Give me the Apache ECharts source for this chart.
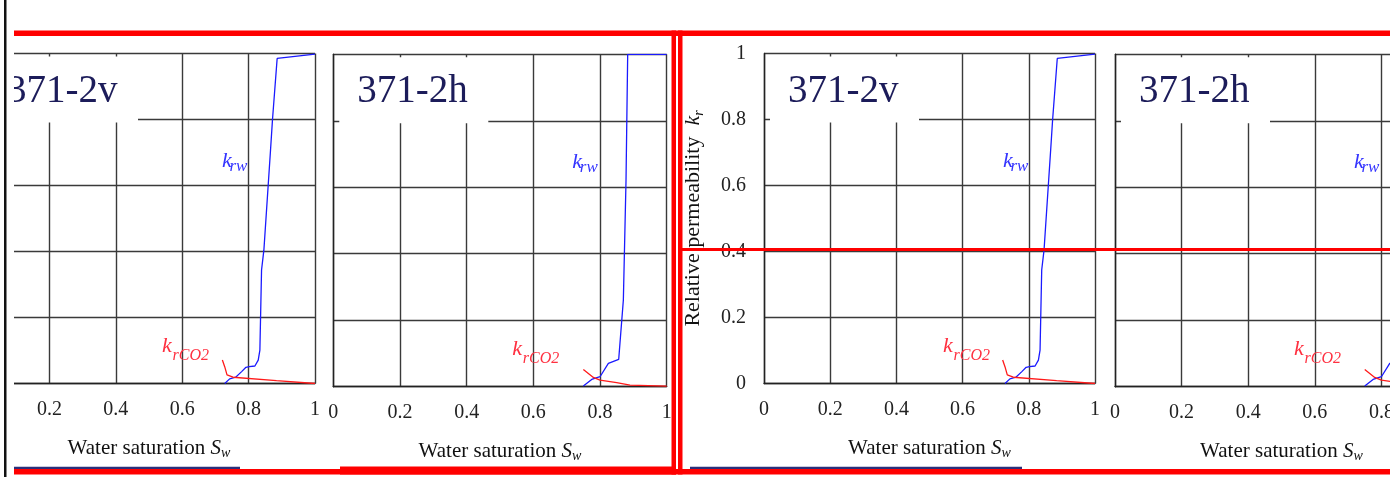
<!DOCTYPE html>
<html><head><meta charset="utf-8">
<script src="https://cdn.jsdelivr.net/npm/echarts@6/dist/echarts.min.js"></script>
<style>html,body{margin:0;padding:0;background:#fff}#c{width:1390px;height:477px}</style>
</head><body><div id="c"></div>
<script>
// ---- data ----
const xTicks = [0, 0.2, 0.4, 0.6, 0.8, 1];
const yTicks = [0, 0.2, 0.4, 0.6, 0.8, 1];
const panelTitles = ['371-2v', '371-2h', '371-2v', '371-2h'];
const panelSets = ['v', 'h', 'v', 'h'];

// sample 371-2v
const swV_w  = [0.728, 0.743, 0.761, 0.779, 0.792, 0.802, 0.819, 0.829, 0.834, 0.839, 0.846, 0.866, 0.872, 0.886, 1.0];
const krwV   = [0.000, 0.014, 0.019, 0.036, 0.049, 0.051, 0.053, 0.071, 0.101, 0.344, 0.404, 0.707, 0.800, 0.985, 0.998];
const swV_g  = [0.721, 0.728, 0.735, 0.753, 0.884, 1.0];
const krgV   = [0.071, 0.051, 0.026, 0.019, 0.0085, 0.0];

// sample 371-2h
const swH_w  = [0.750, 0.775, 0.800, 0.825, 0.856, 0.870, 0.878, 0.883, 1.0];
const krwH   = [0.002, 0.022, 0.030, 0.070, 0.082, 0.261, 0.622, 1.000, 1.0];
const swH_g  = [0.750, 0.780, 0.800, 0.850, 0.890, 1.0];
const krgH   = [0.052, 0.028, 0.020, 0.012, 0.005, 0.002];

const xName = 'Water saturation';
const yName = 'Relative permeability';

// ---- layout ----
const panels = [
  {left: -17,   top: 53.5, width: 332,   height: 330},
  {left: 333.3, top: 54.3, width: 333.4, height: 332.4},
  {left: 764,   top: 53.5, width: 331,   height: 330},
  {left: 1115,  top: 54.3, width: 333,   height: 332.4}
];
const SERIF = '"Liberation Serif", "Times New Roman", serif';
const BLUE = '#1a1aff', RED = '#ff1a1a';

const sets = {
  v: {w: swV_w.map((x, i) => [x, krwV[i]]), g: swV_g.map((x, i) => [x, krgV[i]])},
  h: {w: swH_w.map((x, i) => [x, krwH[i]]), g: swH_g.map((x, i) => [x, krgH[i]])}
};

const grid = panels.map(p => ({left: p.left, top: p.top, width: p.width, height: p.height,
  containLabel: false, outerBoundsMode: 'none', show: false}));

const xAxis = panels.map((p, i) => ({
  gridIndex: i, type: 'value', min: xTicks[0], max: xTicks[xTicks.length - 1], interval: xTicks[1] - xTicks[0],
  axisLine: {show: true, onZero: false, lineStyle: {color: '#222', width: 1.4}},
  axisTick: {show: false},
  splitLine: {show: true, lineStyle: {color: '#3a3a3a', width: 1.4}},
  axisLabel: {show: true, margin: 16, fontFamily: SERIF, fontSize: 20, color: '#222',
    showMinLabel: true, showMaxLabel: true, hideOverlap: false},
  name: '{t|' + xName + ' }{s|S}{w|w}', nameLocation: 'middle', nameGap: 53,
  nameTextStyle: {rich: {
    t: {fontFamily: SERIF, fontSize: 21, color: '#111', lineHeight: 24},
    s: {fontFamily: SERIF, fontSize: 21, fontStyle: 'italic', color: '#111', lineHeight: 24},
    w: {fontFamily: SERIF, fontSize: 14, fontStyle: 'italic', color: '#111', lineHeight: 10, verticalAlign: 'bottom'}
  }}
}));

const yAxis = panels.map((p, i) => ({
  gridIndex: i, type: 'value', min: yTicks[0], max: yTicks[yTicks.length - 1], interval: yTicks[1] - yTicks[0],
  axisLine: {show: true, onZero: false, lineStyle: {color: '#222', width: 1.4}},
  axisTick: {show: false},
  splitLine: {show: true, lineStyle: {color: '#3a3a3a', width: 1.4}},
  axisLabel: {show: i === 2, margin: 18, fontFamily: SERIF, fontSize: 20, color: '#222',
    showMinLabel: true, showMaxLabel: true},
  name: i === 2 ? '{t|' + yName + '  }{k|k}{r|r}' : '', nameLocation: 'middle', nameGap: 58, nameRotate: 90,
  nameTextStyle: {rich: {
    t: {fontFamily: SERIF, fontSize: 22, color: '#111', lineHeight: 26},
    k: {fontFamily: SERIF, fontSize: 22, fontStyle: 'italic', color: '#111', lineHeight: 26},
    r: {fontFamily: SERIF, fontSize: 14, fontStyle: 'italic', color: '#111', lineHeight: 10, verticalAlign: 'bottom'}
  }}
}));

const series = [];
panels.forEach((p, i) => {
  const d = sets[panelSets[i]];
  series.push({type: 'line', xAxisIndex: i, yAxisIndex: i, data: d.w, showSymbol: false, symbol: 'none',
    lineStyle: {color: BLUE, width: 1.3}, z: 3, silent: true, animation: false});
  series.push({type: 'line', xAxisIndex: i, yAxisIndex: i, data: d.g, showSymbol: false, symbol: 'none',
    lineStyle: {color: RED, width: 1.3}, z: 3, silent: true, animation: false});
});

const graphic = [];
panels.forEach((p, i) => {
  const bottom = p.top + p.height;
  graphic.push({type: 'rect', shape: {x: p.left + 6, y: p.top + 3, width: 149, height: 66}, style: {fill: '#fff'}, z: 20, silent: true});
  graphic.push({type: 'text', x: p.left + 24, y: 92, style: {text: panelTitles[i], font: '39px ' + SERIF, fill: '#1c1c5a', verticalAlign: 'middle'}, z: 21, silent: true});
  // k_rw label
  graphic.push({type: 'text', x: p.left + 239, y: p.top + 107.5, style: {text: 'k', font: 'italic 22px ' + SERIF, fill: '#3535ff', verticalAlign: 'middle'}, z: 21, silent: true});
  graphic.push({type: 'text', x: p.left + 246.5, y: p.top + 113.5, style: {text: 'rw', font: 'italic 17px ' + SERIF, fill: '#3535ff', verticalAlign: 'middle'}, z: 21, silent: true});
  // k_rCO2 label
  graphic.push({type: 'text', x: p.left + 179, y: bottom - 37.5, style: {text: 'k', font: 'italic 22px ' + SERIF, fill: '#ff3040', verticalAlign: 'middle'}, z: 21, silent: true});
  graphic.push({type: 'text', x: p.left + 189.5, y: bottom - 28, style: {text: 'rCO2', font: 'italic 16px ' + SERIF, fill: '#ff3040', verticalAlign: 'middle'}, z: 21, silent: true});
});
// page clipping / annotation marks
graphic.push({type: 'rect', shape: {x: 0, y: 0, width: 14, height: 477}, style: {fill: '#fff'}, z: 30, silent: true});
graphic.push({type: 'rect', shape: {x: 4, y: 0, width: 2.5, height: 477}, style: {fill: '#111'}, z: 40, silent: true});
graphic.push({type: 'rect', shape: {x: 14, y: 466.8, width: 226, height: 2.2}, style: {fill: '#2b2f7a'}, z: 40, silent: true});
graphic.push({type: 'rect', shape: {x: 690, y: 466.8, width: 332, height: 2.2}, style: {fill: '#2b2f7a'}, z: 40, silent: true});
graphic.push({type: 'rect', shape: {x: 14, y: 30.5, width: 1376, height: 5.5}, style: {fill: '#ff0000'}, z: 50, silent: true});
graphic.push({type: 'rect', shape: {x: 14, y: 469, width: 1376, height: 5.5}, style: {fill: '#ff0000'}, z: 50, silent: true});
graphic.push({type: 'rect', shape: {x: 340, y: 466.5, width: 336, height: 8}, style: {fill: '#ff0000'}, z: 50, silent: true});
graphic.push({type: 'rect', shape: {x: 671.5, y: 30.5, width: 4.5, height: 444}, style: {fill: '#ff0000'}, z: 50, silent: true});
graphic.push({type: 'rect', shape: {x: 678, y: 30.5, width: 4.5, height: 444}, style: {fill: '#ff0000'}, z: 50, silent: true});
graphic.push({type: 'rect', shape: {x: 682, y: 248, width: 708, height: 3}, style: {fill: '#ff0000'}, z: 50, silent: true});

const chart = echarts.init(document.getElementById('c'), null, {renderer: 'canvas'});
chart.setOption({
  animation: false,
  backgroundColor: '#fff',
  grid, xAxis, yAxis, series, graphic
});
</script></body></html>
